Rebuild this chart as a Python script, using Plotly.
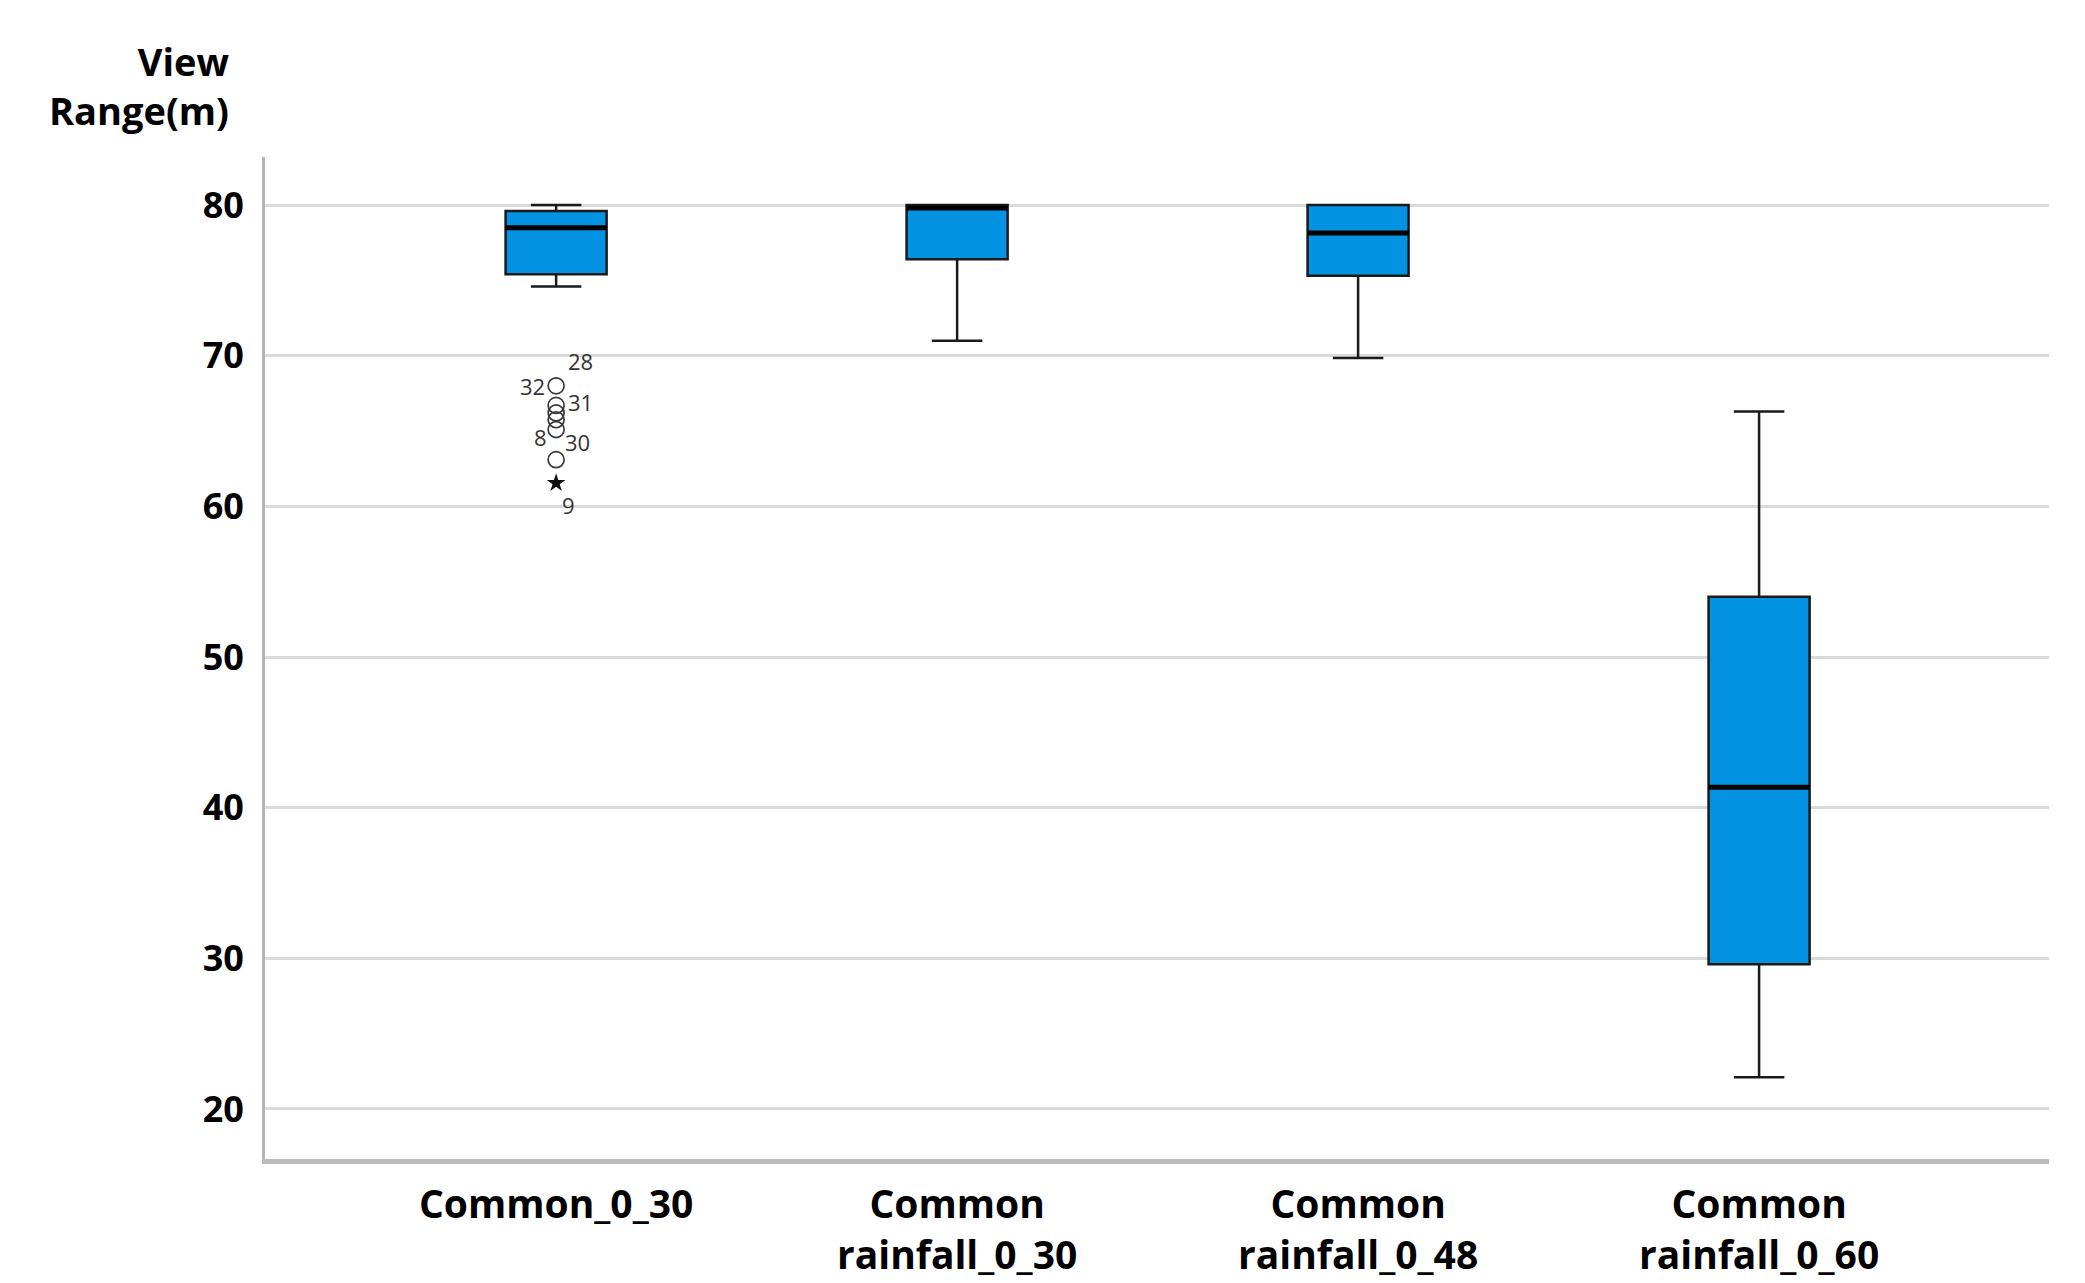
import plotly.graph_objects as go

# ---- data ----
categories = ["Common_0_30", "Common<br>rainfall_0_30", "Common<br>rainfall_0_48", "Common<br>rainfall_0_60"]
lower_whisker = [74.6, 71.0, 69.85, 22.1]
q1_vals = [75.4, 76.4, 75.3, 29.6]
median_vals = [78.5, 79.8, 78.15, 41.35]
q3_vals = [79.6, 80.0, 80.0, 54.0]
upper_whisker = [80.0, 80.0, 80.0, 66.3]

outlier_vals = [68.0, 66.7, 66.2, 65.75, 65.1, 63.1]   # Common_0_30 (circles)
extreme_vals = [61.55]                                  # Common_0_30 (star)
outlier_labels = ["28", "32", "31", "8", "30", "9"]
outlier_label_vals = [68.0, 68.0, 66.7, 65.1, 65.1, 61.55]
y_ticks = [20, 30, 40, 50, 60, 70, 80]

# ---- style ----
label_offsets = [(24, 25), (-24, 0), (24, 3), (-16, -7), (21, -12), (12, -22)]
BOX_W = 0.252
FONT = "Open Sans"

fig = go.Figure()
fig.add_trace(go.Box(
    x=categories, q1=q1_vals, median=median_vals, q3=q3_vals,
    lowerfence=lower_whisker, upperfence=upper_whisker,
    width=BOX_W, whiskerwidth=0.5,
    fillcolor="#0492E3", line=dict(color="#1a1a1a", width=2.5),
    boxpoints=False, showlegend=False, hoverinfo="skip",
))

fig.add_trace(go.Scatter(
    x=[categories[0]] * len(outlier_vals), y=outlier_vals, mode="markers",
    marker=dict(symbol="circle-open", size=16, color="#3a3a3a", line=dict(width=1.7)),
    showlegend=False, hoverinfo="skip",
))
fig.add_trace(go.Scatter(
    x=[categories[0]] * len(extreme_vals), y=extreme_vals, mode="markers",
    marker=dict(symbol="star", size=14, color="#111111"),
    showlegend=False, hoverinfo="skip",
))

# thicker median lines
for i, m in enumerate(median_vals):
    fig.add_shape(type="line", xref="x", yref="y",
                  x0=i - BOX_W / 2, x1=i + BOX_W / 2, y0=m, y1=m,
                  line=dict(color="black", width=5))

for lab, v, (dx, dy) in zip(outlier_labels, outlier_label_vals, label_offsets):
    fig.add_annotation(x=categories[0], y=v, text=lab, showarrow=False,
                       xshift=dx, yshift=dy,
                       font=dict(family=FONT, size=22, color="#333333"))

fig.add_annotation(xref="paper", yref="paper", x=-0.019, y=1.071,
                   xanchor="right", yanchor="middle", align="right",
                   text="View<br>Range(m)", showarrow=False,
                   font=dict(family=FONT, size=38, color="black", weight="bold"))

fig.update_layout(
    width=2085, height=1283,
    margin=dict(l=257, r=44, t=149, b=132),
    plot_bgcolor="white", paper_bgcolor="white",
    font=dict(family=FONT),
    xaxis=dict(
        type="category", range=[-0.726, 3.723],
        showgrid=False, zeroline=False,
        showline=True, linecolor="#bdbdbd", linewidth=5,
        ticks="", ticklabelstandoff=7,
        tickfont=dict(family=FONT, size=39, color="black", weight="bold"),
    ),
    yaxis=dict(
        range=[16.68, 83.19], tickvals=y_ticks,
        showgrid=True, gridcolor="#dadada", gridwidth=3,
        zeroline=False, showline=True, linecolor="#b5b5b5", linewidth=3,
        ticks="", ticklabelstandoff=11,
        tickfont=dict(family=FONT, size=36, color="black", weight="bold"),
    ),
)

fig.write_html("out.html")
